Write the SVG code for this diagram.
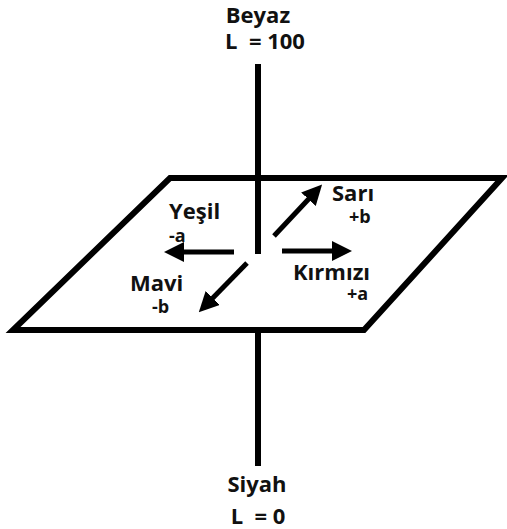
<svg xmlns="http://www.w3.org/2000/svg" width="507" height="529" viewBox="0 0 507 529">
<defs>
<style>
.t{font-family:"Open Sans","Noto Sans","Liberation Sans",sans-serif;font-weight:bold;fill:#111;}
.big{font-size:22px;}
.sm{font-size:18px;}
.ax{stroke:#000;stroke-width:6;fill:none;}
.ar{stroke:#000;stroke-width:5;fill:none;marker-end:url(#ah);}
</style>
<marker id="ah" viewBox="0 0 10 10" refX="7" refY="5" markerWidth="4" markerHeight="4" orient="auto" markerUnits="strokeWidth">
<path d="M0,0 L10,5 L0,10 z" fill="#000"/>
</marker>
</defs>
<rect width="507" height="529" fill="#fff"/>
<g id="axis">
<line class="ax" x1="258" y1="64" x2="258" y2="254"/>
<line class="ax" x1="258" y1="330" x2="258" y2="466"/>
</g>
<g id="plane">
<polygon class="ax" points="170,178 502,178 364,330 13,330" stroke-linejoin="miter"/>
</g>
<g id="connectors">
<line class="ar" x1="234" y1="252" x2="170" y2="252"/>
<line class="ar" x1="282" y1="251" x2="346" y2="251"/>
<line class="ar" x1="274" y1="236" x2="318" y2="189"/>
<line class="ar" x1="247" y1="263" x2="203" y2="308"/>
</g>
<g id="beyaz">
<text class="t big" x="258" y="23" text-anchor="middle">Beyaz</text>
<text class="t big" x="265" y="49" text-anchor="middle" xml:space="preserve">L  = 100</text>
</g>
<g id="siyah">
<text class="t big" x="257" y="492" text-anchor="middle">Siyah</text>
<text class="t big" x="258" y="524" text-anchor="middle" xml:space="preserve">L  = 0</text>
</g>
<g id="yesil">
<text class="t big" x="169" y="219">Yeşil</text>
<text class="t sm" x="169" y="242">-a</text>
</g>
<g id="sari">
<text class="t big" x="332" y="201">Sarı</text>
<text class="t sm" x="349" y="223">+b</text>
</g>
<g id="kirmizi">
<text class="t big" x="293" y="280">Kırmızı</text>
<text class="t sm" x="347" y="300">+a</text>
</g>
<g id="mavi">
<text class="t big" x="130" y="291">Mavi</text>
<text class="t sm" x="152" y="313">-b</text>
</g>
</svg>
